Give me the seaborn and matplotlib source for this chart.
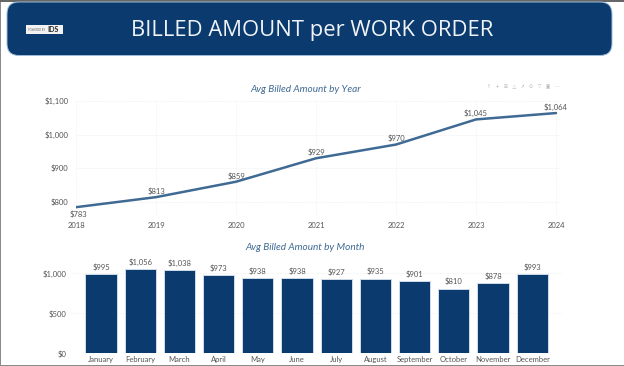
import matplotlib
matplotlib.use("Agg")
import matplotlib.pyplot as plt
from matplotlib.patches import FancyBboxPatch, Rectangle
from matplotlib.ticker import FuncFormatter
import seaborn as sns
import pandas as pd

years = [2018, 2019, 2020, 2021, 2022, 2023, 2024]
year_values = [783, 813, 859, 929, 970, 1045, 1064]
months = ["January", "February", "March", "April", "May", "June", "July",
          "August", "September", "October", "November", "December"]
month_values = [995, 1056, 1038, 973, 938, 938, 927, 935, 901, 810, 878, 993]

W, H = 624, 366
NAVY = "#0a3a6e"
LINE = "#3f6a94"
TXT = "#555555"
SMALL = ["Lato", "DejaVu Sans"]
LABEL_SIZE = 5.5

sns.set_theme(style="white")
plt.rcParams["font.family"] = SMALL

fig = plt.figure(figsize=(W / 100, H / 100), dpi=100, facecolor="white")

def axpx(x0, y0, x1, y1):
    return fig.add_axes([x0 / W, 1 - y1 / H, (x1 - x0) / W, (y1 - y0) / H])

def money(v, _=None):
    return f"${v:,.0f}"

# frame and banner
bg = fig.add_axes([0, 0, 1, 1], zorder=0)
bg.set_xlim(0, W); bg.set_ylim(H, 0); bg.axis("off")
bg.add_patch(Rectangle((0, 0), 1, H, fc="#8a8a8a", ec="none"))
bg.add_patch(Rectangle((0, H - 1.2), W, 1.2, fc="#8a8a8a", ec="none"))
bg.add_patch(Rectangle((0, 0), W, 1.5, fc="#666666", ec="none"))
bg.add_patch(FancyBboxPatch((7, 2), 605, 53.5, boxstyle="round,pad=0,rounding_size=12",
                            fc=NAVY, ec="#9fbcd8", lw=0.7))
bg.add_patch(Rectangle((26, 25), 37, 9, fc="#f2f2f2", ec="none"))
bg.text(37, 29.8, "POWERED BY", fontsize=1.9, color="#666666", ha="center", va="center")
bg.text(53, 29.8, "IDS", fontsize=5, color="#222222", fontweight="bold", ha="center", va="center")
bg.text(312, 30.5, "BILLED AMOUNT per WORK ORDER", fontsize=15.8, color="#f0f4f8",
        ha="center", va="center", family=["Open Sans", "DejaVu Sans"])
bg.text(306, 89.3, "Avg Billed Amount by Year", fontsize=7.2, style="italic", color=LINE,
        ha="center", va="center")
bg.text(305.5, 247, "Avg Billed Amount by Month", fontsize=7.2, style="italic", color=LINE,
        ha="center", va="center")
bg.text(523, 86.5, "\u2191   +   \u229e   \u25b3   \u2197   \u2299   \u25bd   \u25a3   \u22ef", fontsize=3.4,
        color="#b5b5b5", ha="center", va="center", family=["DejaVu Sans"])

# line chart
df_y = pd.DataFrame({"year": years, "value": year_values})
ax = axpx(76, 101, 560, 216)
ax.patch.set_alpha(0)
sns.lineplot(data=df_y, x="year", y="value", ax=ax, color=LINE, lw=1.8, solid_capstyle="round")
ax.set_xlim(2018, 2018 + (560 - 76) / 80)
ax.set_ylim(1100 - 115 / 33.5 * 100, 1100)
ax.set_xticks(years)
ax.set_yticks([800, 900, 1000, 1100])
ax.yaxis.set_major_formatter(FuncFormatter(money))
ax.grid(True, color="#f0f0f0", lw=0.6, ls=(0, (1, 1)))
ax.set_axisbelow(True)
ax.set(xlabel="", ylabel="")
sns.despine(ax=ax, left=True, bottom=True)
ax.tick_params(axis="both", length=0, labelsize=LABEL_SIZE, labelcolor=TXT)
ax.tick_params(axis="y", pad=5.5)
ax.tick_params(axis="x", pad=4)
for i, (x, y) in enumerate(zip(years, year_values)):
    below = i == 0
    ax.annotate(money(y), (x, y), xytext=(1.5 if below else 0, -2.5 if below else 1.6),
                textcoords="offset points", ha="center", va="top" if below else "bottom",
                fontsize=LABEL_SIZE, color=TXT, annotation_clip=False)

# bar chart
df_m = pd.DataFrame({"month": months, "value": month_values})
ax2 = axpx(71, 255, 562, 353.3)
ax2.patch.set_alpha(0)
sns.barplot(data=df_m, x="month", y="value", ax=ax2, color=NAVY, saturation=1, width=0.8,
            edgecolor="#cfdbe8", linewidth=0.7, zorder=3)
ax2.set_xlim(-0.765, 11.76)
ax2.set_ylim(0, (353.3 - 255) / 80 * 1000)
ax2.set_yticks([0, 500, 1000])
ax2.yaxis.set_major_formatter(FuncFormatter(money))
ax2.grid(True, axis="y", color="#f0f0f0", lw=0.6, ls=(0, (1, 1)))
ax2.set_axisbelow(True)
ax2.set(xlabel="", ylabel="")
sns.despine(ax=ax2, left=True, bottom=True)
ax2.tick_params(axis="both", length=0, labelsize=LABEL_SIZE, labelcolor=TXT)
ax2.tick_params(axis="y", pad=3.5)
ax2.tick_params(axis="x", pad=6.3)
for lab in ax2.get_xticklabels():
    lab.set_verticalalignment("baseline")
for i, v in enumerate(month_values):
    ax2.annotate(money(v), (i, v), xytext=(0, 2.2), textcoords="offset points",
                 ha="center", va="bottom", fontsize=LABEL_SIZE, color=TXT)

fig.savefig("out.png", dpi=100)
